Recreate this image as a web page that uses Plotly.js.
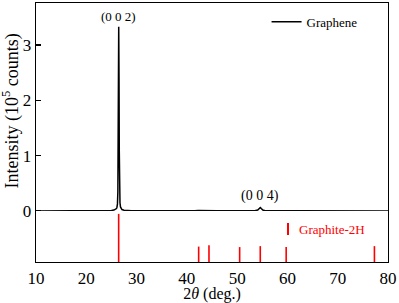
<!DOCTYPE html>
<html><head><meta charset="utf-8">
<script src="https://cdn.plot.ly/plotly-3.0.1.min.js"></script>
<style>html,body{margin:0;padding:0;background:#fff}</style>
</head><body><div id="chart" style="width:399px;height:303px"></div>
<script>
// Graphene XRD pattern (intensity in 10^5 counts)
const twoTheta = [10, 12, 15, 18, 20, 22, 23.3, 23.6, 23.9, 24.5, 25.0, 25.5, 25.8, 26.0, 26.1, 26.2, 26.28, 26.34, 26.39, 26.45, 26.51, 26.56, 26.62, 26.7, 26.8, 26.9, 27.1, 27.5, 28, 29, 30, 31.2, 31.5, 31.8, 33, 35, 38, 40, 41.5, 42.3, 43, 43.5, 44.4, 45, 46, 48, 50, 52, 53.5, 54.1, 54.4, 54.6, 54.8, 55.1, 55.6, 57, 59, 60, 62, 65, 68, 70, 72, 75, 76.8, 77.3, 77.8, 79, 80];
const intensity = [0.003, 0.003, 0.003, 0.004, 0.004, 0.005, 0.006, 0.014, 0.007, 0.009, 0.012, 0.018, 0.026, 0.045, 0.07, 0.13, 0.35, 1.1, 2.4, 3.33, 2.4, 1.1, 0.35, 0.15, 0.075, 0.045, 0.028, 0.016, 0.011, 0.008, 0.006, 0.005, 0.012, 0.005, 0.004, 0.004, 0.004, 0.004, 0.006, 0.01, 0.007, 0.01, 0.008, 0.005, 0.004, 0.004, 0.004, 0.005, 0.008, 0.02, 0.045, 0.065, 0.045, 0.018, 0.008, 0.004, 0.004, 0.004, 0.004, 0.003, 0.003, 0.003, 0.003, 0.003, 0.004, 0.012, 0.004, 0.003, 0.003];
// Graphite-2H reference pattern (relative intensity)
const refPos = [26.44, 42.35, 44.4, 50.5, 54.6, 59.75, 77.3];
const refInt = [100, 32, 35, 31, 33, 31, 33];
const xTicks = [10, 20, 30, 40, 50, 60, 70, 80];
const yTicks = [0, 1, 2, 3];

const sx = [], sy = [];
refPos.forEach((p, i) => { sx.push(p, p, null); sy.push(0, refInt[i], null); });

const serif = 'Liberation Serif';
const data = [
  {x: twoTheta, y: intensity, type: 'scatter', mode: 'lines', name: 'Graphene',
   line: {color: '#000', width: 1.5}, xaxis: 'x', yaxis: 'y'},
  {x: sx, y: sy, type: 'scatter', mode: 'lines', name: 'Graphite-2H', showlegend: false,
   line: {color: '#ff0000', width: 1.6}, xaxis: 'x', yaxis: 'y2'}
];
const pw = 399 - 36 - 11, ph = 303 - 3 - 41;
const layout = {
  width: 399, height: 303,
  margin: {l: 36, r: 11, t: 3, b: 41},
  paper_bgcolor: '#fff', plot_bgcolor: '#fff',
  font: {family: serif, color: '#000', size: 16},
  showlegend: true,
  legend: {x: 0.655, y: 0.985, xanchor: 'left', yanchor: 'top', bgcolor: 'rgba(0,0,0,0)',
           font: {family: serif, size: 13, color: '#000'}, tracegroupgap: 0},
  xaxis: {range: [10, 80], tickvals: xTicks, ticks: 'inside', ticklen: 5, tickwidth: 1.2,
          tickcolor: '#000', showline: true, linecolor: '#000', linewidth: 1.3, mirror: true,
          showgrid: false, zeroline: false, tickfont: {family: serif, size: 17},
          minor: {dtick: 5, tick0: 5, ticks: 'inside', ticklen: 3, tickwidth: 1.2, tickcolor: '#000', showgrid: false},
          title: {text: '2<i>θ</i> (deg.)', font: {family: serif, size: 16}, standoff: 0}},
  yaxis: {range: [-0.92, 3.76], tickvals: yTicks, ticks: 'inside', ticklen: 5, tickwidth: 1.2,
          tickcolor: '#000', showline: true, linecolor: '#000', linewidth: 1.3, mirror: true,
          showgrid: false, zeroline: false, tickfont: {family: serif, size: 17}},
  yaxis2: {domain: [0, 0.197], range: [0, 106], visible: false, anchor: 'x', showgrid: false, zeroline: false},
  annotations: [
    {x: 26.44, y: 3.33, xref: 'x', yref: 'y', text: '(0 0 2)', showarrow: false, yanchor: 'bottom', yshift: 1,
     font: {family: serif, size: 13, color: '#000'}},
    {x: 54.6, y: 0.07, xref: 'x', yref: 'y', text: '(0 0 4)', showarrow: false, yanchor: 'bottom', yshift: 1,
     font: {family: serif, size: 14, color: '#000'}},
    {x: (297 - 36) / pw, y: (262 - 229) / ph, xref: 'paper', yref: 'paper', text: 'Graphite-2H', showarrow: false,
     font: {family: serif, size: 13, color: '#ff0000'}, xanchor: 'left', yanchor: 'middle'},
    {x: (11 - 36) / pw, y: (262 - 111.5) / ph, xref: 'paper', yref: 'paper', text: 'Intensity (10<sup>5</sup> counts)',
     showarrow: false, textangle: -90, xanchor: 'center', yanchor: 'middle',
     font: {family: serif, size: 18, color: '#000'}}
  ],
  shapes: [{type: 'line', xref: 'paper', yref: 'paper',
    x0: (288 - 36) / pw, x1: (288 - 36) / pw, y0: (262 - 235) / ph, y1: (262 - 223) / ph,
    line: {color: '#ff0000', width: 2}}]
};
Plotly.newPlot('chart', data, layout, {displayModeBar: false, staticPlot: true});
</script></body></html>
